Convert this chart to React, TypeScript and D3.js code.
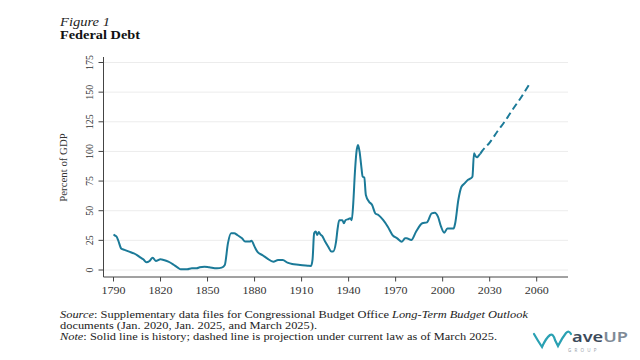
import React from "react";
import * as d3 from "d3";

const histYears = [1790,1791,1792,1793,1795,1797,1800,1803,1805,1807,1809,1811,1813,1815,1817,1820,1822,1825,1828,1831,1833,1837,1840,1843,1845,1848,1851,1856,1859,1861,1863,1865,1867,1869,1872,1874,1877,1878,1880,1882,1885,1888,1892,1895,1898,1901,1904,1908,1914,1916,1917,1918,1919,1920,1921,1922,1923,1925,1927,1929,1930,1932,1933,1934,1936,1937,1938,1940,1941,1942,1943,1944,1945,1946,1947,1948,1949,1950,1951,1953,1955,1957,1959,1962,1965,1968,1971,1974,1976,1977,1980,1983,1987,1990,1993,1995,1997,1999,2001,2003,2007,2008,2010,2012,2014,2016,2018,2019,2020,2021,2022,2023,2024];
const histValues = [30,29,28,25,18,17,15.5,14,12.6,10.7,9,6.5,7.6,10.4,7.6,9,8.4,7,4.8,2,0.6,0.6,1.4,1.4,2.3,2.8,2.3,1.4,2,4.2,22.5,31,31,29.5,26.7,24,24,24.7,19.7,15,12.6,9.8,7,8.4,8.4,6.2,5,4.5,3.6,3.4,9,31,32.5,29.5,32,30,29,24,19.6,15.5,15.5,24,35,42,42,39.4,42,43,43.6,42,57,82,99.5,105.5,99.8,88.5,78.7,78,63.2,57.6,54.8,47.8,46.4,42.2,36.5,29.5,26.7,23.9,26.7,26.7,25.3,32.3,39.4,40.2,47.8,48.3,45,36.5,31.5,35,35,39.4,59,70.2,73,75.9,77.3,78.7,98.4,96.1,95,96.5,98];
const projYears = [2024,2025,2030,2035,2040,2045,2050,2055];
const projValues = [98,100,107.5,117,126,136,145.5,156];
const xTicks = [1790,1820,1850,1880,1910,1940,1970,2000,2030,2060];
const yTicks = [0,25,50,75,100,125,150,175];

const LINE = "#1b7a98";
const SERIF = "'Liberation Serif', 'Times New Roman', serif";

export default function App() {
  const left = 103.5, right = 568, top = 57, bottom = 277;
  const x = d3.scaleLinear().domain([1790, 2060]).range([113.5, 536.7]);
  const y = d3.scaleLinear().domain([0, 175]).range([270, 62.5]);
  const line = d3.line<[number, number]>().x(d => x(d[0])).y(d => y(d[1])).curve(d3.curveMonotoneX);
  const hist = histYears.map((yr, i) => [yr, histValues[i]] as [number, number]);
  const proj = projYears.map((yr, i) => [yr, projValues[i]] as [number, number]);

  return (
    <svg width={640} height={360} style={{ position: "absolute", left: 0, top: 0, background: "#fff" }} fontFamily={SERIF}>
      <rect width={640} height={360} fill="#fff" />
      <text x={60} y={26} fontSize={12.5} fontStyle="italic" textLength={50} lengthAdjust="spacingAndGlyphs" fill="#222">Figure 1</text>
      <text x={60} y={39} fontSize={12.5} fontWeight="bold" textLength={80} lengthAdjust="spacingAndGlyphs" fill="#111">Federal Debt</text>

      {yTicks.map(t => (
        <line key={"g" + t} x1={left} x2={right} y1={y(t)} y2={y(t)} stroke="#ececec" strokeWidth={1} />
      ))}
      <line x1={left} x2={left} y1={top} y2={bottom} stroke="#444" strokeWidth={1} />
      <line x1={left} x2={right} y1={bottom} y2={bottom} stroke="#444" strokeWidth={1} />
      {yTicks.map(t => (
        <g key={"y" + t}>
          <line x1={left - 5} x2={left} y1={y(t)} y2={y(t)} stroke="#444" strokeWidth={1} />
          <text transform={`translate(93,${y(t)}) rotate(-90)`} textAnchor="middle" fontSize={10} fill="#333">{t}</text>
        </g>
      ))}
      {xTicks.map(t => (
        <g key={"x" + t}>
          <line x1={x(t)} x2={x(t)} y1={bottom} y2={bottom + 4.5} stroke="#444" strokeWidth={1} />
          <text x={x(t)} y={294} textAnchor="middle" fontSize={10.5} textLength={24} lengthAdjust="spacingAndGlyphs" fill="#333">{t}</text>
        </g>
      ))}
      <text transform={`translate(66.5,167.5) rotate(-90)`} textAnchor="middle" fontSize={10.8} fill="#333">Percent of GDP</text>

      <path d={line(hist) || ""} fill="none" stroke={LINE} strokeWidth={2} strokeLinejoin="round" />
      <path d={line(proj) || ""} fill="none" stroke={LINE} strokeWidth={2} strokeDasharray="7,4" />

      <text x={60} y={318} fontSize={10.5} textLength={468} lengthAdjust="spacingAndGlyphs" fill="#222">
        <tspan fontStyle="italic">Source</tspan>: Supplementary data files for Congressional Budget Office <tspan fontStyle="italic">Long-Term Budget Outlook</tspan>
      </text>
      <text x={60} y={329} fontSize={10.5} textLength={257} lengthAdjust="spacingAndGlyphs" fill="#222">documents (Jan. 2020, Jan. 2025, and March 2025).</text>
      <text x={60} y={340} fontSize={10.5} textLength={437} lengthAdjust="spacingAndGlyphs" fill="#222">
        <tspan fontStyle="italic">Note</tspan>: Solid line is history; dashed line is projection under current law as of March 2025.
      </text>

      <g>
        <path d="M534,334 Q538,341 542,347 Q546,338 550,335 Q553,333 555,340 L558,346 Q562,338 566,333 Q569,330 571,334" fill="none" stroke="#2aa1b3" strokeWidth={2.2} strokeLinecap="round" />
        <text x={572} y={342} fontFamily="'Noto Sans', sans-serif" fontSize={15} fontWeight={600} textLength={56} lengthAdjust="spacingAndGlyphs">
          <tspan fill="#3c4a5a">ave</tspan><tspan fill="#7f8b97">UP</tspan>
        </text>
        <text x={568} y={352} fontFamily="'Noto Sans', sans-serif" fontSize={4.5} letterSpacing={3.2} fill="#9aa3ab">GROUP</text>
      </g>
    </svg>
  );
}
